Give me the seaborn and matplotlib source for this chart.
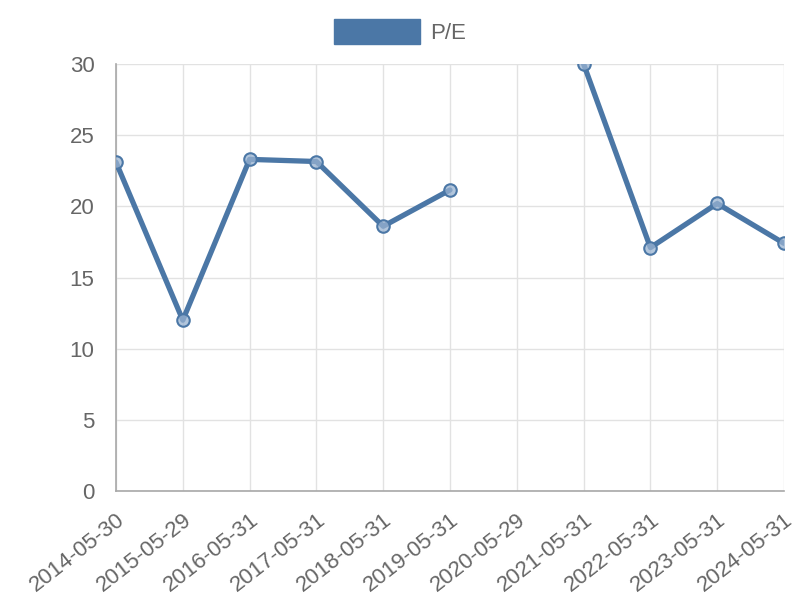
import numpy as np
import pandas as pd
import matplotlib
matplotlib.use("Agg")
import matplotlib.pyplot as plt
from matplotlib.patches import Patch
import seaborn as sns

dates = ["2014-05-30", "2015-05-29", "2016-05-31", "2017-05-31", "2018-05-31",
         "2019-05-31", "2020-05-29", "2021-05-31", "2022-05-31", "2023-05-31",
         "2024-05-31"]
pe = [23.1, 12.0, 23.3, 23.15, 18.6, 21.15, np.nan, 30.0, 17.1, 20.2, 17.4]

line_color = "#4b77a6"
grid_color = "#e2e2e2"
text_color = "#666666"

sns.set_theme(style="white")
plt.rcParams['font.family'] = ['Liberation Sans', 'DejaVu Sans']

df = pd.DataFrame({"Date": dates, "P/E": pe})
df["pos"] = np.arange(len(df))
# split into runs so the missing year leaves a gap
df["run"] = df["P/E"].isna().cumsum()

fig = plt.figure(figsize=(8, 6), dpi=100, facecolor="white")
ax = fig.add_axes([0.145, 0.1817, 0.835, 0.7116])

sns.lineplot(data=df.dropna(), x="pos", y="P/E", units="run", estimator=None,
             color=line_color, linewidth=3.8, marker="o", markersize=9,
             markerfacecolor=(0.60, 0.70, 0.82, 0.75), markeredgecolor=line_color,
             markeredgewidth=1.5, ax=ax, legend=False, zorder=3)

ax.set_xlim(0, len(dates) - 1)
ax.set_ylim(0, 30)
ax.set_yticks([0, 5, 10, 15, 20, 25, 30])
ax.set_xticks(df["pos"])
ax.set_xticklabels(dates, rotation=38, ha="right", rotation_mode="anchor")
ax.set_xlabel("")
ax.set_ylabel("")

ax.grid(True, color=grid_color, linewidth=1)
ax.set_axisbelow(True)
for side in ["top", "right"]:
    ax.spines[side].set_visible(False)
for side in ["left", "bottom"]:
    ax.spines[side].set_color("#a8a8a8")
    ax.spines[side].set_linewidth(1.2)
ax.tick_params(axis="both", colors=grid_color, labelcolor=text_color,
               labelsize=16, length=13.5, width=1, pad=2, direction="out")
ax.tick_params(axis="x", length=12, pad=1)

handle = Patch(facecolor=line_color, edgecolor=line_color)
fig.legend([handle], ["P/E"], loc="center", bbox_to_anchor=(0.5, 0.947),
           frameon=False, fontsize=16, handlelength=3.9, handleheight=1.35,
           handletextpad=0.45, labelcolor=text_color, borderpad=0)

fig.savefig("out.png", dpi=100, facecolor="white")
